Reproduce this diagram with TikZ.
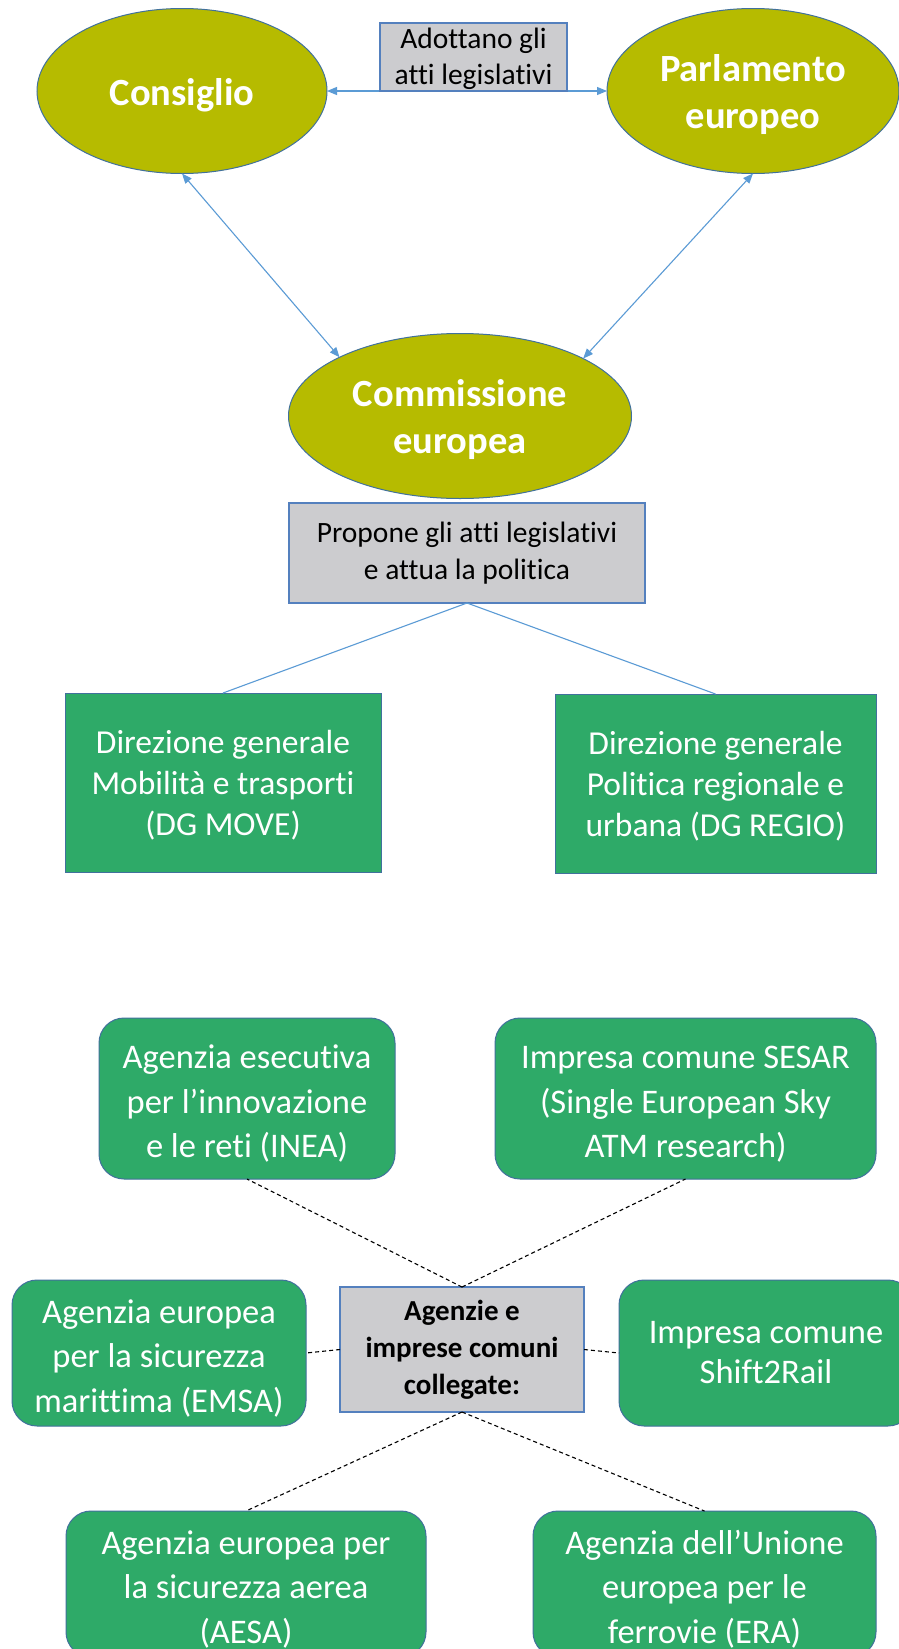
\documentclass[tikz,border=0pt]{standalone}
\usepackage{fontspec}
\setmainfont{Carlito}[Ligatures={NoCommon,NoContextual},RawFeature={-liga;-clig;-calt;-dlig}]
\usetikzlibrary{shapes.geometric,arrows.meta}
\definecolor{euolive}{RGB}{182,187,0}
\definecolor{eugreen}{RGB}{46,170,104}
\definecolor{eugray}{RGB}{204,204,207}
\definecolor{elbord}{RGB}{65,113,156}
\definecolor{boxbord}{RGB}{84,128,190}
\definecolor{arrblue}{RGB}{91,155,213}
\newcommand{\tstrut}[1]{\rule{0pt}{#1}}
\begin{document}
\begin{tikzpicture}[x=1pt,y=-1pt,
  inst/.style={ellipse,draw=elbord,line width=1pt,fill=euolive,inner sep=0pt,outer sep=0pt},
  insttext/.style={text=white,font=\bfseries\fontsize{38.5}{47}\selectfont,align=center,inner sep=0pt},
  graybox/.style={rectangle,draw=boxbord,line width=1.2pt,fill=eugray,text=black,
    align=center,inner sep=0pt,outer sep=0pt},
  dgbox/.style={rectangle,draw=elbord,line width=1pt,fill=eugreen,text=white,
    align=center,inner sep=0pt,outer sep=0pt,font=\fontsize{33.5}{41}\selectfont},
  agbox/.style={rectangle,rounded corners=25pt,draw=elbord,line width=1pt,fill=eugreen,text=white,
    align=center,inner sep=0pt,outer sep=0pt,font=\fontsize{34.5}{44.5}\selectfont},
  arr/.style={draw=arrblue,line width=1.1pt,{Triangle[length=10pt,width=8pt]}-{Triangle[length=10pt,width=8pt]}},
  plainblue/.style={draw=arrblue,line width=1.1pt},
  dashlink/.style={draw=black,line width=1.1pt,dash pattern=on 4pt off 3pt}
]
\useasboundingbox (0,0) rectangle (899,1649);
\clip (0,0) rectangle (899,1649);
\fill[white] (0,0) rectangle (899,1649);

% institutions
\node[inst,minimum width=290pt,minimum height=165pt] (cons) at (182,91) {};
\node[inst,minimum width=292pt,minimum height=165pt] (parl) at (753,91) {};
\node[inst,minimum width=343pt,minimum height=165pt] (comm) at (460,416) {};
\node[insttext] (consT) at ([yshift=-4pt]cons.center) {Consiglio};
\node[insttext] (parlT) at ([yshift=-4pt]parl.center) {Parlamento\\europeo};
\node[insttext] (commT) at ([yshift=-4pt]comm.center) {Commissione\\europea};

\draw[arr] (cons.east) -- (parl.west);
\draw[arr] (cons.south) -- (comm.154.4);
\draw[arr] (parl.south) -- (comm.25.6);

\node[graybox,minimum width=187pt,minimum height=68pt,font=\fontsize{29.5}{36}\selectfont] (adot) at (473.5,57) {\tstrut{25pt}Adottano gli\\atti legislativi};

\node[graybox,minimum width=356pt,minimum height=100pt,font=\fontsize{29.5}{37}\selectfont] (prop) at (467,553) {Propone gli atti legislativi\\e attua la politica};

% directorates
\node[dgbox,minimum width=316pt,minimum height=179pt] (move) at (223,782.5) {\tstrut{29pt}Direzione generale\\Mobilità e trasporti\\(DG MOVE)};
\node[dgbox,minimum width=321pt,minimum height=179pt] (regio) at (715.5,783.5) {\tstrut{29pt}Direzione generale\\Politica regionale e\\urbana (DG REGIO)};

\draw[plainblue] (prop.south) -- (move.north);
\draw[plainblue] (prop.south) -- (regio.north);

% agencies
\node[graybox,minimum width=244pt,minimum height=125pt,font=\bfseries\fontsize{29}{37}\selectfont] (ctr) at (462,1349.5) {Agenzie e\\imprese comuni\\collegate:};

\node[agbox,minimum width=296pt,minimum height=161pt] (inea) at (247,1098.5) {\tstrut{34pt}Agenzia esecutiva\\per l’innovazione\\e le reti (INEA)};
\node[agbox,minimum width=381pt,minimum height=161pt] (sesar) at (685.5,1098.5) {\tstrut{34pt}Impresa comune SESAR\\(Single European Sky\\ATM research)};
\node[agbox,minimum width=294pt,minimum height=146pt] (emsa) at (159,1353) {\tstrut{34pt}Agenzia europea\\per la sicurezza\\marittima (EMSA)};
\node[agbox,minimum width=294pt,minimum height=146pt,font=\fontsize{34.5}{40}\selectfont] (shift) at (766,1353) {Impresa comune\\Shift2Rail};
\node[agbox,minimum width=360pt,minimum height=146pt] (aesa) at (246,1584) {\tstrut{34pt}Agenzia europea per\\la sicurezza aerea\\(AESA)};
\node[agbox,minimum width=343pt,minimum height=146pt] (era) at (704.5,1584) {\tstrut{34pt}Agenzia dell’Unione\\europea per le\\ferrovie (ERA)};

\draw[dashlink] (ctr.north) -- (inea.south);
\draw[dashlink] (ctr.north) -- (sesar.south);
\draw[dashlink] (ctr.west) -- (emsa.east);
\draw[dashlink] (ctr.east) -- (shift.west);
\draw[dashlink] (ctr.south) -- (aesa.north);
\draw[dashlink] (ctr.south) -- (era.north);
\end{tikzpicture}
\end{document}
